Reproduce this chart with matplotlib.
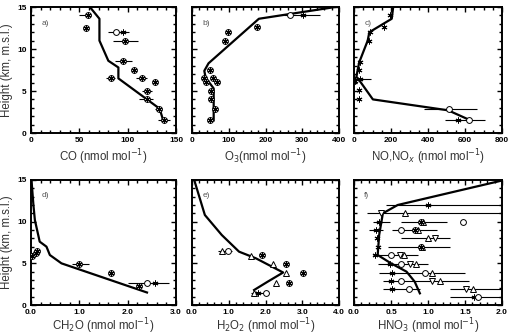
import matplotlib
matplotlib.use("Agg")
import matplotlib.pyplot as plt
from matplotlib.ticker import MultipleLocator

plt.rcParams['font.family'] = ['Liberation Sans', 'DejaVu Sans']

# ---------------- data ----------------
# a) CO
co_line_x = [59.5, 70.8, 70.8, 80, 90.4, 90.4, 133, 136.8]
co_line_h = [15.2, 13.6, 11.0, 8.6, 7.8, 6.5, 2.9, 1.5]
co_cs_x = [58.8, 56.7, 97, 95.5, 106.5, 83, 114.4, 128, 119.6, 119.6, 132.6, 137.5]
co_cs_h = [14.1, 12.5, 11.0, 8.6, 7.5, 6.5, 6.5, 6.1, 5.0, 4.0, 2.8, 1.6]
co_c_x = [87.6]
co_c_h = [12.0]
co_s_x = [95.5]
co_s_h = [12.0]
co_err_h = [14.1, 12.0, 11.0, 8.6, 6.5, 6.5, 5.0, 4.0, 2.8, 1.6]
co_err_lo = [50, 80, 85, 87, 78, 109, 115, 112, 128, 131]
co_err_hi = [62, 101, 111, 104, 87, 120, 125, 126, 136, 144]

# b) O3
o3_line_x = [390, 182, 45, 33.5, 37, 59, 59]
o3_line_h = [15.0, 13.6, 8.3, 7.4, 6.6, 5.3, 1.5]
o3_cs_x = [177, 98, 89, 49, 33.5, 57, 68, 37, 52, 52, 63, 49]
o3_cs_h = [12.6, 12.0, 11.0, 7.5, 6.5, 6.5, 6.1, 6.1, 5.0, 4.0, 2.8, 1.5]
o3_c_x = [268]
o3_c_h = [14.1]
o3_s_x = [302]
o3_s_h = [14.1]
o3_err_h = [14.1]
o3_err_lo = [250]
o3_err_hi = [347]

# c) NO, NOx
nox_line_x = [213, 204, 83, 74, 28, 13, 31, 102, 509, 630]
nox_line_h = [15.2, 13.6, 12.0, 11.0, 8.4, 6.7, 6.2, 4.0, 2.7, 1.5]
nox_s_x = [194, 163, 87, 83, 31, 28, 0, 4, 33, 28, 28, 561]
nox_s_h = [14.1, 12.6, 12.0, 11.0, 8.5, 7.5, 6.5, 6.2, 6.4, 5.1, 4.0, 1.6]
nox_c_x = [513, 624]
nox_c_h = [2.8, 1.5]
nox_err_h = [2.8, 1.5, 6.4]
nox_err_lo = [380, 490, 0]
nox_err_hi = [667, 709, 93]

# d) CH2O
ch2o_line_x = [0.01, 0.05, 0.08, 0.18, 0.32, 0.39, 0.63, 2.4]
ch2o_line_h = [15.0, 12.0, 10.2, 7.6, 7.0, 6.0, 5.0, 1.5]
ch2o_cs_x = [0.03, 0.1, 0.13, 1.0, 1.66, 2.23]
ch2o_cs_h = [5.9, 6.3, 6.5, 4.9, 3.9, 2.3]
ch2o_c_x = [2.41]
ch2o_c_h = [2.7]
ch2o_s_x = [2.57]
ch2o_s_h = [2.7]
ch2o_err_h = [4.9, 2.7]
ch2o_err_lo = [0.84, 2.0]
ch2o_err_hi = [1.21, 2.86]

# e) H2O2
h2o2_line_x = [0.06, 0.35, 0.81, 1.28, 1.74, 2.48, 2.06, 1.69]
h2o2_line_h = [15.0, 10.8, 8.4, 6.4, 5.6, 3.9, 2.8, 1.8]
h2o2_t_x = [0.81, 1.6, 2.2, 2.56, 2.28, 1.69]
h2o2_t_h = [6.5, 5.9, 4.9, 3.9, 2.6, 1.5]
h2o2_c_x = [0.98, 2.0]
h2o2_c_h = [6.5, 1.5]
h2o2_cs_x = [1.9, 2.57, 3.02, 2.65]
h2o2_cs_h = [6.0, 4.9, 3.9, 2.7]
h2o2_s_x = [1.8]
h2o2_s_h = [1.5]
h2o2_err_h = [6.5, 1.5]
h2o2_err_lo = [0.72, 1.6]
h2o2_err_hi = [1.1, 2.1]

# f) HNO3
hno3_line_x = [2.03, 0.59, 0.39, 0.34, 0.32, 0.5, 0.71, 0.82, 0.89]
hno3_line_h = [15.0, 12.0, 11.0, 8.4, 6.0, 5.0, 4.0, 2.8, 1.4]
hno3_s_x = [1.0, 0.34, 0.3, 0.31, 0.32, 0.29, 0.49, 0.52, 0.5, 0.51, 1.62]
hno3_s_h = [12.0, 10.0, 9.0, 8.0, 7.0, 6.0, 4.9, 3.9, 2.9, 1.9, 1.0]
hno3_v_x = [0.37, 1.1, 0.62, 0.76, 1.05, 1.51]
hno3_v_h = [11.0, 8.0, 6.0, 4.9, 2.9, 1.9]
hno3_t_x = [0.69, 0.93, 0.86, 1.0, 0.92, 0.67, 0.84, 1.06, 1.16, 1.61]
hno3_t_h = [11.0, 10.0, 9.0, 8.0, 7.0, 6.0, 4.9, 3.9, 2.9, 1.9]
hno3_c_x = [1.47, 0.63, 0.5, 0.64, 0.96, 0.63, 0.74, 1.67]
hno3_c_h = [10.0, 9.0, 6.0, 4.9, 3.9, 2.9, 1.9, 1.0]
hno3_cs_x = [0.9, 0.82, 0.9]
hno3_cs_h = [10.0, 9.0, 7.0]
hno3_err_h = [12, 11, 10, 10, 9, 9, 8, 7, 6, 4.9, 3.9, 2.9, 1.9, 1.9, 1.0]
hno3_err_lo = [0.43, 0.18, 0.25, 0.64, 0.2, 0.52, 0.64, 0.46, 0.25, 0.32, 0.34, 0.39, 0.39, 1.3, 1.3]
hno3_err_hi = [2.1, 2.1, 0.48, 1.26, 0.39, 1.12, 1.3, 1.3, 0.87, 1.0, 1.5, 1.55, 0.89, 2.1, 2.1]

# ---------------- figure ----------------
W, H = 513, 335
fig = plt.figure(figsize=(W / 100, H / 100), dpi=100)

cols = [(31, 176), (192, 339), (354, 502)]
rows = [(7, 133), (180, 305)]


def make_ax(r, c):
    (x0, x1), (y0, y1) = cols[c], rows[r]
    return fig.add_axes([x0 / W, 1 - y1 / H, (x1 - x0) / W, (y1 - y0) / H])


MS = 4.2
ASTER = (6, 2, 0)


def pts(ax, x, h, kind):
    kw = dict(ls='none', color='black', zorder=4)
    if kind in ('c', 'cs'):
        ax.plot(x, h, marker='o', ms=MS, mfc='white', mec='black', mew=0.7, **kw)
    if kind in ('s', 'cs'):
        ax.plot(x, h, marker=ASTER, ms=MS, mew=0.7, **kw)
    if kind == 't':
        ax.plot(x, h, marker='^', ms=MS, mfc='white', mec='black', mew=0.7, **kw)
    if kind == 'v':
        ax.plot(x, h, marker='v', ms=MS, mfc='white', mec='black', mew=0.7, **kw)


def errs(ax, h, lo, hi):
    ax.hlines(h, lo, hi, colors='black', lw=0.8, zorder=3)


def style(ax, xmax, xmajor, xminor, xfmt, xlabel, letter, ylab, lpad):
    ax.set_xlim(0, xmax)
    ax.set_ylim(0, 15)
    ax.xaxis.set_major_locator(MultipleLocator(xmajor))
    ax.xaxis.set_minor_locator(MultipleLocator(xminor))
    ax.yaxis.set_major_locator(MultipleLocator(5))
    ax.yaxis.set_minor_locator(MultipleLocator(1))
    ax.set_xticks(ax.get_xticks())
    ax.set_xticklabels([xfmt.format(v) for v in ax.get_xticks()])
    ax.set_xlim(0, xmax)
    ax.tick_params(which='both', direction='in', top=True, right=True, width=1.0)
    ax.tick_params(which='major', length=3.5, labelsize=6, pad=3)
    ax.tick_params(which='minor', length=2)
    for lab in ax.get_xticklabels() + ax.get_yticklabels():
        lab.set_fontweight('bold')
    for sp in ax.spines.values():
        sp.set_linewidth(1.4)
    ax.set_xlabel(xlabel, fontsize=8.3, color='#333333', labelpad=lpad)
    ax.text(0.07, 0.9, letter, transform=ax.transAxes, fontsize=6, color='#555555',
            ha='left', va='top')
    if ylab:
        ax.set_ylabel('Height (km, m.s.l.)', fontsize=8.3, color='#333333', labelpad=3)
    else:
        ax.set_yticklabels([])


LW = 1.6

# a
ax = make_ax(0, 0)
errs(ax, co_err_h, co_err_lo, co_err_hi)
ax.plot(co_line_x, co_line_h, color='black', lw=LW, zorder=2)
pts(ax, co_cs_x, co_cs_h, 'cs')
pts(ax, co_c_x, co_c_h, 'c')
pts(ax, co_s_x, co_s_h, 's')
style(ax, 150, 50, 10, '{:.0f}', 'CO (nmol mol$^{-1}$)', 'a)', True, 2)

# b
ax = make_ax(0, 1)
errs(ax, o3_err_h, o3_err_lo, o3_err_hi)
ax.plot(o3_line_x, o3_line_h, color='black', lw=LW, zorder=2, clip_on=True)
pts(ax, o3_cs_x, o3_cs_h, 'cs')
pts(ax, o3_c_x, o3_c_h, 'c')
pts(ax, o3_s_x, o3_s_h, 's')
style(ax, 400, 100, 20, '{:.0f}', 'O$_3$(nmol mol$^{-1}$)', 'b)', False, 2)

# c
ax = make_ax(0, 2)
errs(ax, nox_err_h, nox_err_lo, nox_err_hi)
ax.plot(nox_line_x, nox_line_h, color='black', lw=LW, zorder=2)
pts(ax, nox_s_x, nox_s_h, 's')
pts(ax, nox_c_x, nox_c_h, 'c')
style(ax, 800, 200, 50, '{:.0f}', 'NO,NO$_x$ (nmol mol$^{-1}$)', 'c)', False, 2)

# d
ax = make_ax(1, 0)
errs(ax, ch2o_err_h, ch2o_err_lo, ch2o_err_hi)
ax.plot(ch2o_line_x, ch2o_line_h, color='black', lw=LW, zorder=2)
pts(ax, ch2o_cs_x, ch2o_cs_h, 'cs')
pts(ax, ch2o_c_x, ch2o_c_h, 'c')
pts(ax, ch2o_s_x, ch2o_s_h, 's')
style(ax, 3.0, 1.0, 0.2, '{:.1f}', 'CH$_2$O (nmol mol$^{-1}$)', 'd)', True, 0)

# e
ax = make_ax(1, 1)
errs(ax, h2o2_err_h, h2o2_err_lo, h2o2_err_hi)
ax.plot(h2o2_line_x, h2o2_line_h, color='black', lw=LW, zorder=2)
pts(ax, h2o2_t_x, h2o2_t_h, 't')
pts(ax, h2o2_c_x, h2o2_c_h, 'c')
pts(ax, h2o2_cs_x, h2o2_cs_h, 'cs')
pts(ax, h2o2_s_x, h2o2_s_h, 's')
style(ax, 4.0, 1.0, 0.2, '{:.1f}', 'H$_2$O$_2$ (nmol mol$^{-1}$)', 'e)', False, 0)

# f
ax = make_ax(1, 2)
errs(ax, hno3_err_h, hno3_err_lo, hno3_err_hi)
ax.plot(hno3_line_x, hno3_line_h, color='black', lw=LW, zorder=2)
pts(ax, hno3_s_x, hno3_s_h, 's')
pts(ax, hno3_v_x, hno3_v_h, 'v')
pts(ax, hno3_t_x, hno3_t_h, 't')
pts(ax, hno3_c_x, hno3_c_h, 'c')
pts(ax, hno3_cs_x, hno3_cs_h, 'cs')
style(ax, 2.0, 0.5, 0.1, '{:.1f}', 'HNO$_3$ (nmol mol$^{-1}$)', 'f)', False, 0)

fig.savefig('out.png', dpi=100)
